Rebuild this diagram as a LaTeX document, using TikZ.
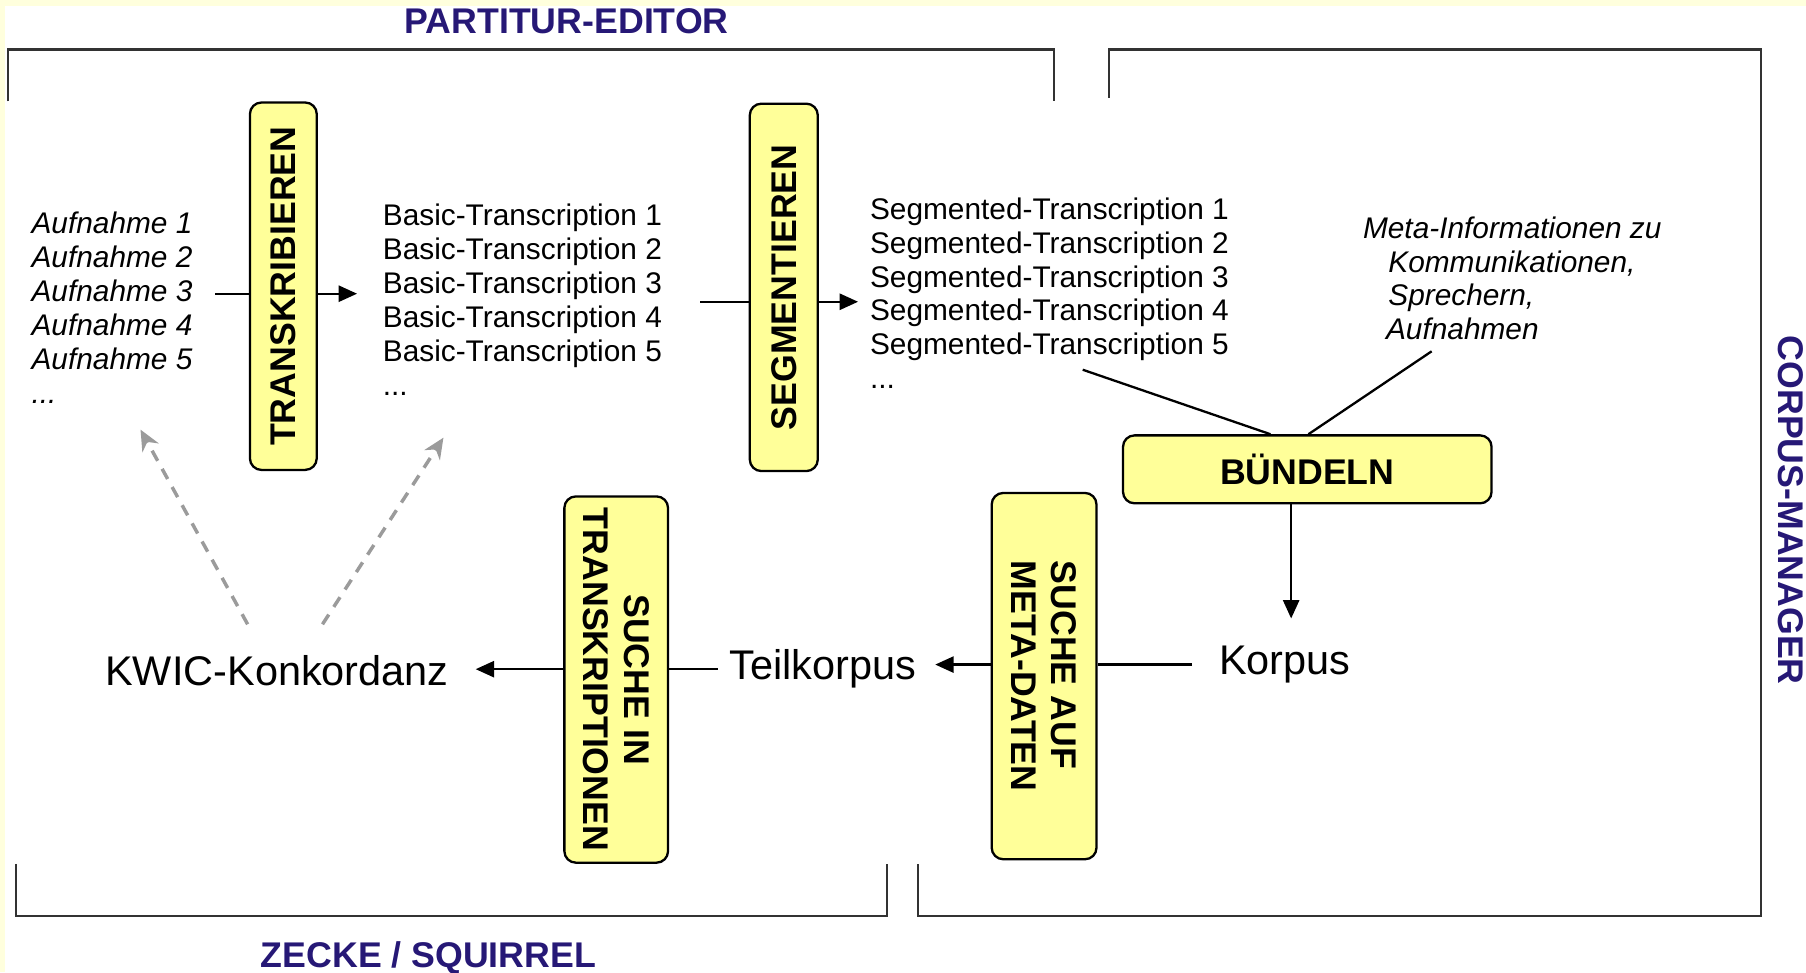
\documentclass[tikz,border=0pt]{standalone}
\usepackage{fontspec}
\setmainfont{Liberation Sans}
\usetikzlibrary{arrows.meta}
\definecolor{navy}{RGB}{38,24,118}
\definecolor{boxyellow}{RGB}{255,255,153}
\definecolor{bgyellow}{RGB}{255,255,221}
\definecolor{framegrey}{RGB}{50,50,50}
\definecolor{dashgrey}{RGB}{155,155,155}
\begin{document}
\begin{tikzpicture}[x=0.5pt,y=-0.5pt,
  stepbox/.style={draw=black, line width=1pt, fill=boxyellow, rounded corners=5pt,
    font=\fontsize{15.5}{17.5}\selectfont\bfseries, inner sep=0pt, align=center},
  listtxt/.style={anchor=base west, inner sep=0pt, align=left,
    font=\fontsize{12.95}{14.75}\selectfont},
  bigtxt/.style={anchor=base west, inner sep=0pt, font=\fontsize{18}{21}\selectfont},
  titletxt/.style={text=navy, font=\fontsize{15.5}{18}\selectfont\bfseries, inner sep=0pt},
  conn/.style={line width=1pt, draw=black},
  arr/.style={conn, -{Triangle[length=8pt,width=7pt]}},
  garr/.style={line width=1.5pt, draw=dashgrey, dash pattern=on 5pt off 4pt,
    -{Stealth[length=9pt,width=8pt,fill=dashgrey]}},
  frameline/.style={line width=1pt, draw=framegrey}
]
\fill[bgyellow] (0,0) rectangle (1568,844);
\fill[white] (4,5) rectangle (1568,844);
\useasboundingbox (0,0) rectangle (1568,844);

% frames
\draw[frameline] (7,88) -- (7,43) -- (915,43) -- (915,88);
\draw[frameline] (963,85) -- (963,43) -- (1529,43) -- (1529,795) -- (797,795) -- (797,750);
\draw[frameline] (14,750) -- (14,795) -- (770,795) -- (770,750);

% titles
\node[titletxt, anchor=base] (pe) at (492,29) {PARTITUR-EDITOR};
\node[titletxt, anchor=base] (zs) at (372,840) {ZECKE / SQUIRREL};
\node[titletxt, rotate=-90] (cm) at (1555,443) {CORPUS-MANAGER};

% process boxes
\node[stepbox, rotate=90, minimum width=159.5pt, minimum height=29pt] (trans) at (246,248.5) {TRANSKRIBIEREN};
\node[stepbox, rotate=90, minimum width=159.5pt, minimum height=29.5pt] (segm) at (680.5,249.5) {SEGMENTIEREN};
\node[stepbox, minimum width=160pt, minimum height=29.5pt] (buend) at (1135,407.5) {BÜNDELN};
\node[stepbox, rotate=-90, minimum width=159pt, minimum height=45pt] (suchein) at (535,590) {SUCHE IN\\TRANSKRIPTIONEN};
\node[stepbox, rotate=-90, minimum width=159pt, minimum height=45.5pt, align=left] (sucheauf) at (906.5,587) {SUCHE AUF\\META-DATEN};

% text lists (base anchor = baseline of the last line)
\node[listtxt, font=\fontsize{12.95}{14.75}\selectfont\itshape] (aufn) at (27,350.5)
  {Aufnahme 1\\Aufnahme 2\\Aufnahme 3\\Aufnahme 4\\Aufnahme 5\\...};
\node[listtxt] (basic) at (332,343.5)
  {Basic-Transcription 1\\Basic-Transcription 2\\Basic-Transcription 3\\Basic-Transcription 4\\Basic-Transcription 5\\...};
\node[listtxt, font=\fontsize{12.95}{14.6}\selectfont] (segt) at (755,337)
  {Segmented-Transcription 1\\Segmented-Transcription 2\\Segmented-Transcription 3\\Segmented-Transcription 4\\Segmented-Transcription 5\\...};
\node[listtxt, font=\fontsize{12.95}{14.6}\selectfont\itshape] (meta) at (1183,294.6)
  {Meta-Informationen zu\\\hspace*{11pt}Kommunikationen,\\\hspace*{11pt}Sprechern,\\\hspace*{10pt}Aufnahmen};

% big texts
\node[bigtxt] (kwic) at (91,595) {KWIC-Konkordanz};
\node[bigtxt] (teil) at (633,590) {Teilkorpus};
\node[bigtxt] (korpus) at (1058,586) {Korpus};

% connector coordinates
\coordinate (c1) at (187,255);
\coordinate (c2) at (310,255);
\coordinate (c3) at (608,262);
\coordinate (c4) at (745,262);
\coordinate (c5) at (940,321);
\coordinate (c6) at (1243,305);
\coordinate (c7) at (1121,537);
\coordinate (c8) at (1035,577);
\coordinate (c9) at (812,577);
\coordinate (c10) at (623,581);
\coordinate (c11) at (413,581);
\coordinate (d1) at (215,542);
\coordinate (d2) at (122,373);
\coordinate (d3) at (280,542);
\coordinate (d4) at (385,380);

% connectors
\draw[conn] (c1) -- (c1 -| trans.north);
\draw[arr] (c1 -| trans.south) -- (c2);
\draw[conn] (c3) -- (c3 -| segm.north);
\draw[arr] (c3 -| segm.south) -- (c4);
\draw[conn] (c5) -- ([xshift=-16pt]buend.north);
\draw[conn] (c6) -- ([xshift=0.5pt]buend.north);
\draw[arr] (c7 |- buend.south) -- (c7);
\draw[conn] (c8) -- (c8 -| sucheauf.north);
\draw[arr] (c8 -| sucheauf.south) -- (c9);
\draw[conn] (c10) -- (c10 -| suchein.north);
\draw[arr] (c10 -| suchein.south) -- (c11);
\draw[garr] (d1) -- (d2);
\draw[garr] (d3) -- (d4);
\end{tikzpicture}
\end{document}
